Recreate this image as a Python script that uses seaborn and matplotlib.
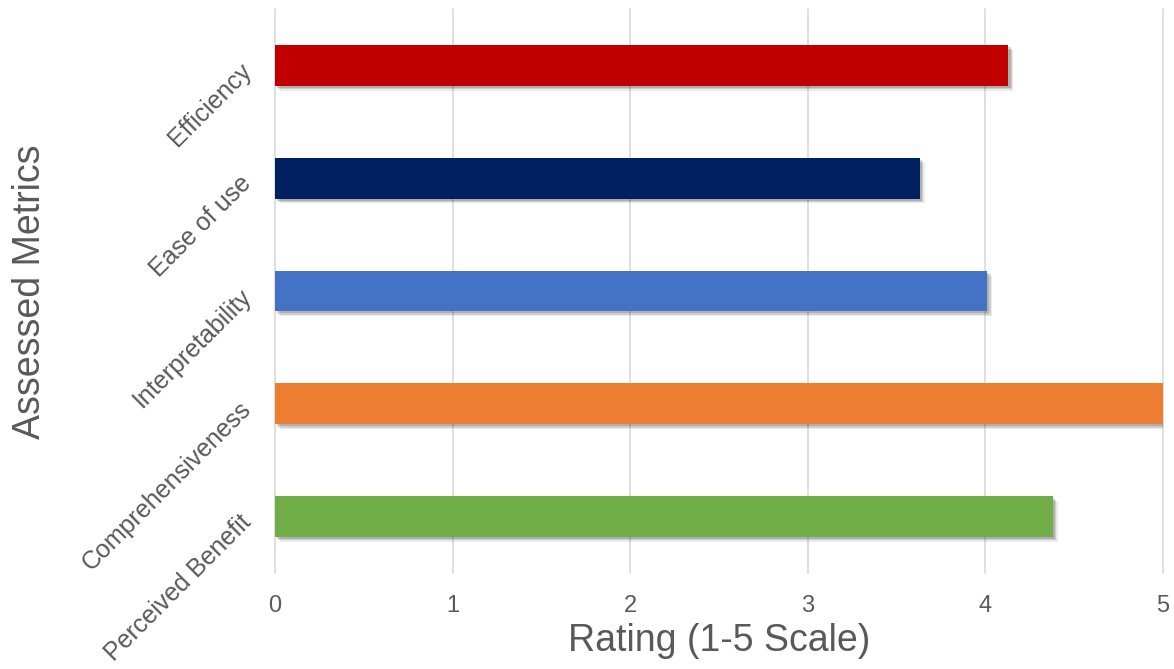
import matplotlib
matplotlib.use("Agg")
import matplotlib.pyplot as plt
import matplotlib.patheffects as pe
import seaborn as sns
import pandas as pd

categories = ["Efficiency", "Ease of use", "Interpretability", "Comprehensiveness", "Perceived Benefit"]
ratings = [4.13, 3.63, 4.01, 5.0, 4.38]
colors = ["#C00000", "#002060", "#4472C4", "#ED7D31", "#70AD47"]
xticks = [0, 1, 2, 3, 4, 5]

sns.set_theme(style="white")
plt.rcParams['font.family'] = ['Liberation Sans', 'DejaVu Sans']

df = pd.DataFrame({"Metric": categories, "Rating": ratings})

fig = plt.figure(figsize=(11.74, 6.69), dpi=100)
ax = fig.add_axes([275/1174, 1 - 573/669, (1163 - 275)/1174, (573 - 9)/669])

sns.barplot(data=df, x="Rating", y="Metric", hue="Metric", palette=colors,
            orient="h", width=0.36, legend=False, ax=ax, saturation=1,
            linewidth=0)

for p in ax.patches:
    p.set_path_effects([
        pe.SimplePatchShadow(offset=(3.5, -3.5), shadow_rgbFace="#000000", alpha=0.08),
        pe.SimplePatchShadow(offset=(2.5, -2.5), shadow_rgbFace="#000000", alpha=0.12),
        pe.SimplePatchShadow(offset=(1.5, -1.5), shadow_rgbFace="#000000", alpha=0.15),
        pe.Normal()])
    p.set_zorder(3)

ax.set_xlim(0, 5)
ax.set_ylim(4.5, -0.5)
ax.set_xticks(xticks)
ax.set_xticklabels([str(t) for t in xticks])
for x in xticks:
    ax.axvline(x, color="#d9d9d9", lw=1.2, zorder=0, clip_on=False)

for s in ax.spines.values():
    s.set_visible(False)

txt = "#595959"
ax.tick_params(axis="x", length=0, pad=16, labelsize=17, labelcolor=txt)
ax.tick_params(axis="y", length=0, pad=21, labelsize=18, labelcolor=txt)
for lab in ax.get_yticklabels():
    lab.set_rotation(45)
    lab.set_ha("right")
    lab.set_rotation_mode("anchor")

ax.set_xlabel("Rating (1-5 Scale)", fontsize=27, color=txt, labelpad=4)
ax.set_ylabel("")
fig.text(30/1174, 1 - 292/669, "Assessed Metrics", fontsize=27, color=txt,
         rotation=90, ha="center", va="center")

fig.savefig("out.png", dpi=100)
